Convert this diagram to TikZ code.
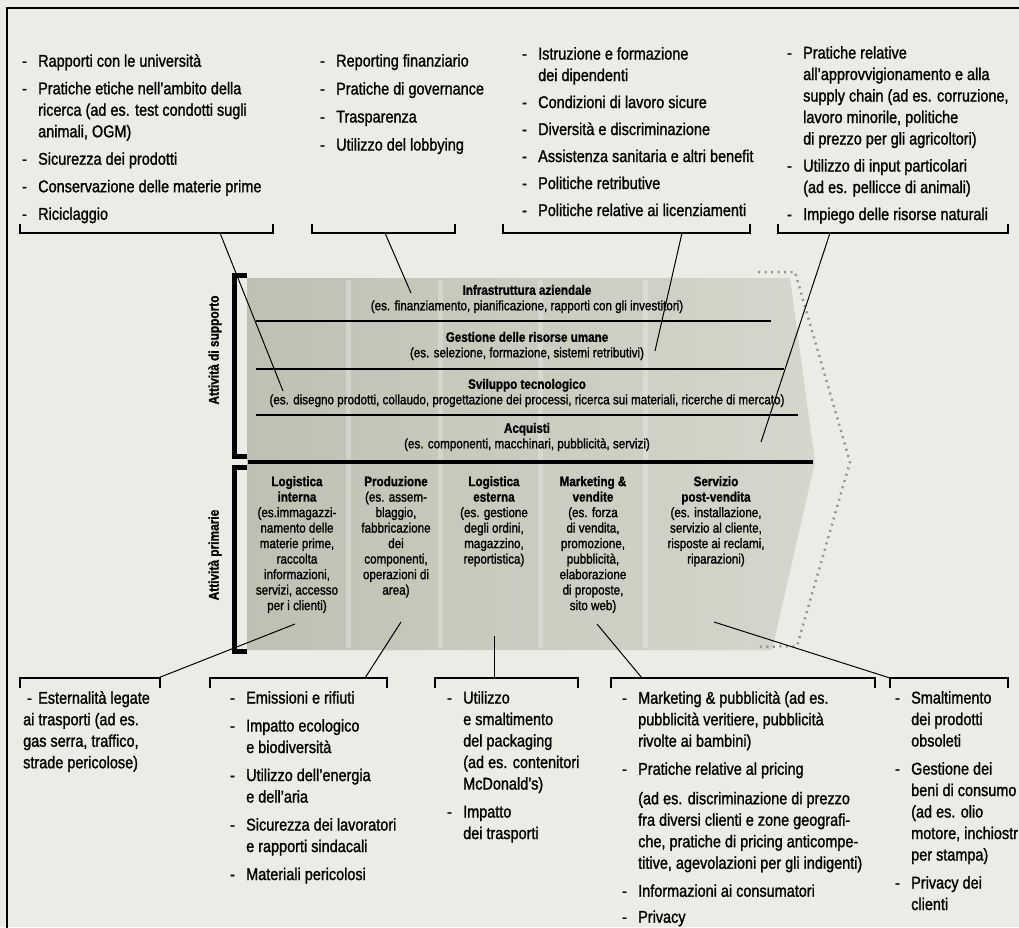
\documentclass[tikz,border=0pt]{standalone}
\usepackage{fontspec}
\setmainfont{Liberation Sans}[FakeStretch=0.85, RawFeature={embolden=1.3}]
\usetikzlibrary{positioning}
\definecolor{paper}{RGB}{236,236,231}
\definecolor{shadeleft}{RGB}{190,193,177}
\definecolor{shaderight}{RGB}{214,215,204}
\definecolor{dotgray}{RGB}{150,150,148}
\newcommand{\dsh}{\makebox[16pt][l]{-}}
\newcommand{\ind}{\hspace*{16pt}}

\begin{document}
\begin{tikzpicture}[x=1pt, y=-1pt,
  listtxt/.style={anchor=north west, align=left, font=\fontsize{17}{21.5}\selectfont},
  rowtxt/.style={align=center, font=\fontsize{13.7}{15.5}\selectfont},
  coltxt/.style={anchor=north, align=center, font=\fontsize{13.7}{15.5}\selectfont},
  vlab/.style={rotate=90, font=\bfseries\fontsize{14}{16}\selectfont},
  brak/.style={line width=2.2pt},
  conn/.style={line width=1pt},
  rowline/.style={line width=2pt},
  bar/.style={line width=5pt},
  dotline/.style={dotgray, line width=2.5pt, dash pattern=on 2pt off 4.5pt}]
\tikzstyle{every node}+=[inner sep=0pt]
\useasboundingbox (0,0) rectangle (1019,927);
\fill [paper] (0,0) rectangle (1019,927);
\draw [black, line width=2pt] (7,940) -- (7,8) -- (1030,8);

\shade [left color=shadeleft, right color=shaderight] (247,278) -- (790,278) -- (815,462) -- (772,650) -- (247,650) -- cycle;
\foreach \x in {348,440,540,645}
  \draw [white, opacity=0.25, line width=5pt] (\x,280) -- (\x,648);
\draw [dotline] (758,272) -- (795,272) -- (850,462) -- (797,646) -- (756,647);

\draw [bar] (247,275) -- (234,275) -- (234,456) -- (247,456);
\draw [bar] (247,467) -- (234,467) -- (234,651) -- (247,651);
\node [vlab] (supporto) at (215,350) {Attività di supporto};
\node [vlab] (primarie) at (215,555) {Attività primarie};

\draw [black, rowline] (256,321) -- (771,321);
\draw [black, rowline] (256,369) -- (784,369);
\draw [black, rowline] (256,415) -- (798,415);
\draw [black, line width=4.5pt] (248,462) -- (813,462);

\node [rowtxt] (infra) at (527,299) {\textbf{Infrastruttura aziendale}\\(es. finanziamento, pianificazione, rapporti con gli investitori)};
\node [rowtxt] (risorse) at (527,346) {\textbf{Gestione delle risorse umane}\\(es. selezione, formazione, sistemi retributivi)};
\node [rowtxt] (sviluppo) at (527,393) {\textbf{Sviluppo tecnologico}\\(es. disegno prodotti, collaudo, progettazione dei processi, ricerca sui materiali, ricerche di mercato)};
\node [rowtxt] (acquisti) at (527,437) {\textbf{Acquisti}\\(es. componenti, macchinari, pubblicità, servizi)};

\node [coltxt] (loginterna) at (297,476) {\textbf{Logistica}\\\textbf{interna}\\(es.immagazzi-\\namento delle\\materie prime,\\raccolta\\informazioni,\\servizi, accesso\\per i clienti)};
\node [coltxt] (produzione) at (396,476) {\textbf{Produzione}\\(es. assem-\\blaggio,\\fabbricazione\\dei\\componenti,\\operazioni di\\area)};
\node [coltxt] (logesterna) at (494,476) {\textbf{Logistica}\\\textbf{esterna}\\(es. gestione\\degli ordini,\\magazzino,\\reportistica)};
\node [coltxt] (marketing) at (593,476) {\textbf{Marketing \&}\\\textbf{vendite}\\(es. forza\\di vendita,\\promozione,\\pubblicità,\\elaborazione\\di proposte,\\sito web)};
\node [coltxt] (servizio) at (716,476) {\textbf{Servizio}\\\textbf{post-vendita}\\(es. installazione,\\servizio al cliente,\\risposte ai reclami,\\riparazioni)};

\node [listtxt] (ricerca) at (22,54) {\dsh Rapporti con le università\\[6pt]\dsh Pratiche etiche nell’ambito della\\\ind ricerca (ad es. test condotti sugli\\\ind animali, OGM)\\[6pt]\dsh Sicurezza dei prodotti\\[6pt]\dsh Conservazione delle materie prime\\[6pt]\dsh Riciclaggio};
\node [listtxt] (governance) at (320,54) {\dsh Reporting finanziario\\[6.5pt]\dsh Pratiche di governance\\[6.5pt]\dsh Trasparenza\\[6.5pt]\dsh Utilizzo del lobbying};
\node [listtxt] (personale) at (522,47) {\dsh Istruzione e formazione\\\ind dei dipendenti\\[5.5pt]\dsh Condizioni di lavoro sicure\\[5.5pt]\dsh Diversità e discriminazione\\[5.5pt]\dsh Assistenza sanitaria e altri benefit\\[5.5pt]\dsh Politiche retributive\\[5.5pt]\dsh Politiche relative ai licenziamenti};
\node [listtxt] (fornitura) at (787,46) {\dsh Pratiche relative\\\ind all’approvvigionamento e alla\\\ind supply chain (ad es. corruzione,\\\ind lavoro minorile, politiche\\\ind di prezzo per gli agricoltori)\\[5.5pt]\dsh Utilizzo di input particolari\\\ind (ad es. pellicce di animali)\\[5.5pt]\dsh Impiego delle risorse naturali};

\draw [brak] (20,224) |- (273,233) -- (273,224);
\draw [brak] (312,224) |- (455,233) -- (455,224);
\draw [brak] (503,224) |- (750,233) -- (750,224);
\draw [brak] (778,224) |- (1008,233) -- (1008,224);

\node [listtxt] (trasporti) at (23,691) {\makebox[15pt][l]{\hspace{4pt}-}Esternalità legate\\ai trasporti (ad es.\\gas serra, traffico,\\strade pericolose)};
\node [listtxt] (ambiente) at (230,691) {\dsh Emissioni e rifiuti\\[6.5pt]\dsh Impatto ecologico\\\ind e biodiversità\\[6.5pt]\dsh Utilizzo dell’energia\\\ind e dell’aria\\[6.5pt]\dsh Sicurezza dei lavoratori\\\ind e rapporti sindacali\\[6.5pt]\dsh Materiali pericolosi};
\node [listtxt] (packaging) at (447,691) {\dsh Utilizzo\\\ind e smaltimento\\\ind del packaging\\\ind (ad es. contenitori\\\ind McDonald’s)\\[6.5pt]\dsh Impatto\\\ind dei trasporti};
\node [listtxt] (pricing) at (622,691) {\dsh Marketing \& pubblicità (ad es.\\\ind pubblicità veritiere, pubblicità\\\ind rivolte ai bambini)\\[6.5pt]\dsh Pratiche relative al pricing\\[8pt]\ind (ad es. discriminazione di prezzo\\\ind fra diversi clienti e zone geografi-\\\ind che, pratiche di pricing anticompe-\\\ind titive, agevolazioni per gli indigenti)\\[6.5pt]\dsh Informazioni ai consumatori\\[4.5pt]\dsh Privacy};
\node [listtxt] (clienti) at (895,691) {\dsh Smaltimento\\\ind dei prodotti\\\ind obsoleti\\[6.5pt]\dsh Gestione dei\\\ind beni di consumo\\\ind (ad es. olio\\\ind motore, inchiostr\\\ind per stampa)\\[6.5pt]\dsh Privacy dei\\\ind clienti};

\draw [brak] (20,688) |- (160,678) -- (160,688);
\draw [brak] (210,688) |- (387,678) -- (387,688);
\draw [brak] (435,688) |- (578,678) -- (578,688);
\draw [brak] (611,688) |- (875,678) -- (875,688);
\draw [brak] (890,688) |- (1008,678) -- (1008,688);

\coordinate (t1) at (220,233);
\coordinate (t2) at (385,233);
\coordinate (t3) at (682,233);
\coordinate (t4) at (830,233);
\coordinate (s1) at (283,391);
\coordinate (s2) at (411,293);
\coordinate (s3) at (655,351);
\coordinate (s4) at (761,442);
\draw [conn] (t1) -- (s1);
\draw [conn] (t2) -- (s2);
\draw [conn] (t3) -- (s3);
\draw [conn] (t4) -- (s4);

\coordinate (p1) at (295,624);
\coordinate (p2) at (401,622);
\coordinate (p3) at (494,636);
\coordinate (p4) at (597,624);
\coordinate (p5) at (714,622);
\coordinate (b1) at (158,678);
\coordinate (b2) at (365,678);
\coordinate (b3) at (494,678);
\coordinate (b4) at (642,678);
\coordinate (b5) at (890,678);
\draw [conn] (p1) -- (b1);
\draw [conn] (p2) -- (b2);
\draw [conn] (p3) -- (b3);
\draw [conn] (p4) -- (b4);
\draw [conn] (p5) -- (b5);
\end{tikzpicture}
\end{document}
